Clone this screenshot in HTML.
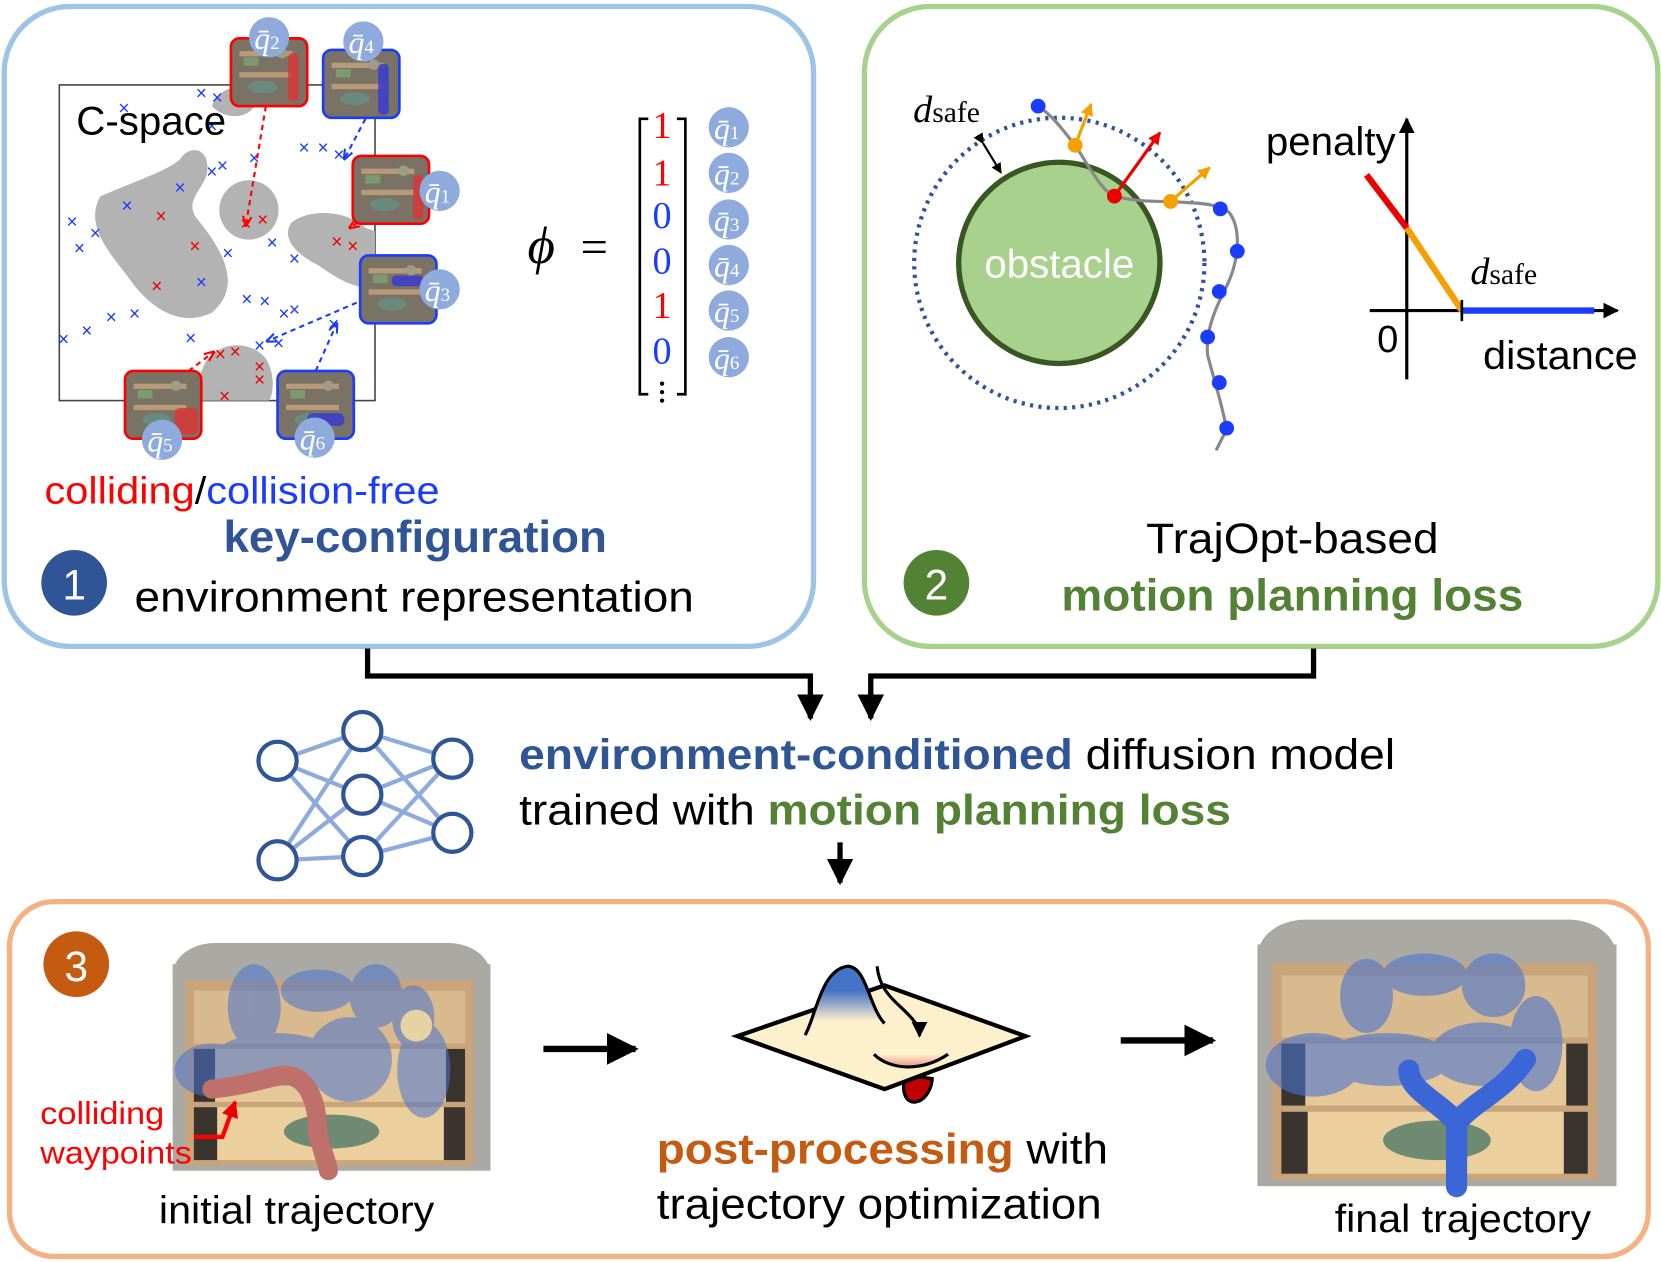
<!DOCTYPE html>
<html><head><meta charset="utf-8"><style>html,body{margin:0;padding:0;background:#fff}svg{display:block}</style></head>
<body>
<svg xmlns="http://www.w3.org/2000/svg" width="1661" height="1262" viewBox="0 0 1568 1191" font-family="Liberation Sans, Arial, sans-serif">
<defs>
<marker id="ab" viewBox="0 0 10 10" refX="9" refY="5" markerWidth="5" markerHeight="5" orient="auto"><path d="M0,0 L10,5 L0,10 z" fill="#000"/></marker>
<marker id="ar" viewBox="0 0 10 10" refX="9" refY="5" markerWidth="5" markerHeight="5" orient="auto"><path d="M0,1 L10,5 L0,9" fill="none" stroke="#f00" stroke-width="2"/></marker>
<marker id="abl" viewBox="0 0 10 10" refX="9" refY="5" markerWidth="5" markerHeight="5" orient="auto"><path d="M0,1 L10,5 L0,9" fill="none" stroke="#1a3cff" stroke-width="2"/></marker>
<marker id="ao" viewBox="0 0 10 10" refX="9" refY="5" markerWidth="4" markerHeight="4" orient="auto"><path d="M0,0 L10,5 L0,10 z" fill="#f5a000"/></marker>
<marker id="ard" viewBox="0 0 10 10" refX="9" refY="5" markerWidth="4" markerHeight="4" orient="auto"><path d="M0,0 L10,5 L0,10 z" fill="#e00"/></marker>
<linearGradient id="bump" x1="0" y1="0" x2="0" y2="1"><stop offset="0.35" stop-color="#4472c4"/><stop offset="0.8" stop-color="#fdf0cc"/></linearGradient>
<linearGradient id="dip" x1="0" y1="0" x2="0" y2="1"><stop offset="0" stop-color="#fdf0cc"/><stop offset="1" stop-color="#f0a090"/></linearGradient>
<g id="thumb"><rect x="0" y="0" width="72" height="64" rx="8" fill="#7a7264"/><rect x="8" y="12" width="50" height="5" fill="#b89a78"/><rect x="8" y="32" width="50" height="5" fill="#b89a78"/><ellipse cx="30" cy="46" rx="14" ry="6" fill="#6a8a80"/><rect x="12" y="18" width="14" height="8" fill="#7a9a70"/><circle cx="48" cy="14" r="5" fill="#a09a88"/></g>
<g id="shelf">
<rect x="0" y="20" width="300" height="195" fill="#aaa9a4"/>
<rect x="0" y="0" width="300" height="60" rx="40" fill="#aaa9a4"/>
<rect x="12" y="35" width="272" height="175" fill="#c9a47a"/>
<rect x="20" y="45" width="256" height="50" fill="#d9b98e"/>
<rect x="20" y="100" width="256" height="50" fill="#e6c898"/>
<rect x="20" y="155" width="256" height="50" fill="#ebcf9d"/>
<rect x="20" y="100" width="20" height="50" fill="#3a342e"/><rect x="258" y="100" width="18" height="50" fill="#3a342e"/>
<rect x="20" y="155" width="22" height="50" fill="#3a342e"/><rect x="256" y="155" width="20" height="50" fill="#3a342e"/>
<ellipse cx="150" cy="178" rx="45" ry="16" fill="#6f8a73"/>
</g>
</defs>

<rect x="4" y="6" width="764" height="604" rx="62" fill="none" stroke="#9dc3e6" stroke-width="5"/>
<rect x="816" y="6" width="749" height="604" rx="62" fill="none" stroke="#a9d18e" stroke-width="5"/>
<rect x="9" y="851" width="1547" height="335" rx="42" fill="none" stroke="#f4b183" stroke-width="5"/>

<path d="M347,612 V638 H765 V678" fill="none" stroke="#000" stroke-width="5" marker-end="url(#ab)"/>
<path d="M1240,612 V638 H822 V678" fill="none" stroke="#000" stroke-width="5" marker-end="url(#ab)"/>
<path d="M793,795 V833" fill="none" stroke="#000" stroke-width="5" marker-end="url(#ab)"/>

<rect x="56" y="80" width="298" height="298" fill="#fff" stroke="#444" stroke-width="1.5"/>
<g fill="#b3b3b3">
<path d="M95,185 C130,170 160,160 170,150 C180,135 200,140 195,165 C190,180 175,190 185,205 C210,235 230,270 200,295 C170,310 140,290 120,260 C100,235 80,210 95,185 Z"/>
<ellipse cx="235" cy="198" rx="28" ry="28"/>
<path d="M275,210 C295,195 330,200 345,215 L354,218 L354,270 C335,275 315,260 300,250 C280,240 265,225 275,210Z"/>
<path d="M195,340 C210,320 240,322 252,340 C260,355 258,372 254,378 L190,378 C185,365 188,352 195,340Z"/>
<path d="M200,100 C205,85 220,80 240,80 L240,100 C235,110 215,115 200,100Z"/>
</g>
<g font-size="18" font-family="Liberation Sans, sans-serif" text-anchor="middle">
<g fill="#1a3cff"><text x="117" y="108">×</text><text x="190" y="94">×</text><text x="205" y="98">×</text><text x="170" y="183">×</text><text x="90" y="226">×</text><text x="68" y="215">×</text><text x="75" y="240">×</text><text x="82" y="318">×</text><text x="215" y="245">×</text><text x="190" y="272">×</text><text x="210" y="162">×</text><text x="240" y="155">×</text><text x="257" y="235">×</text><text x="278" y="250">×</text><text x="250" y="290">×</text><text x="105" y="305">×</text><text x="127" y="302">×</text><text x="180" y="325">×</text><text x="233" y="288">×</text><text x="268" y="302">×</text><text x="278" y="298">×</text><text x="320" y="152">×</text><text x="305" y="145">×</text><text x="287" y="145">×</text><text x="60" y="326">×</text><text x="245" y="332">×</text><text x="120" y="200">×</text><text x="200" y="125">×</text><text x="315" y="312">×</text><text x="263" y="330">×</text><text x="200" y="168">×</text></g>
<g fill="#e00"><text x="152" y="210">×</text><text x="184" y="238">×</text><text x="148" y="276">×</text><text x="232" y="217">×</text><text x="248" y="213">×</text><text x="318" y="234">×</text><text x="333" y="238">×</text><text x="208" y="340">×</text><text x="222" y="338">×</text><text x="245" y="352">×</text><text x="245" y="364">×</text><text x="212" y="380">×</text></g>
</g>
<text x="72" y="127" font-size="38">C-space</text>
<path d="M251,100 L232,213" stroke="#f00" stroke-width="2" stroke-dasharray="5,4" fill="none" marker-end="url(#ar)"/>
<path d="M345,205 L330,215" stroke="#f00" stroke-width="2" stroke-dasharray="5,4" fill="none" marker-end="url(#ar)"/>
<path d="M178,350 L202,332" stroke="#f00" stroke-width="2" stroke-dasharray="5,4" fill="none" marker-end="url(#ar)"/>
<path d="M345,112 L325,150" stroke="#1a3cff" stroke-width="2" stroke-dasharray="5,4" fill="none" marker-end="url(#abl)"/>
<path d="M345,282 L252,322" stroke="#1a3cff" stroke-width="2" stroke-dasharray="5,4" fill="none" marker-end="url(#abl)"/>
<path d="M298,350 L318,305" stroke="#1a3cff" stroke-width="2" stroke-dasharray="5,4" fill="none" marker-end="url(#abl)"/>
<g stroke-width="2.5">
<use href="#thumb" x="218" y="36"/><rect x="218" y="36" width="72" height="64" rx="8" fill="none" stroke="#f00"/>
<use href="#thumb" x="305" y="47"/><rect x="305" y="47" width="72" height="64" rx="8" fill="none" stroke="#1a3cff"/>
<use href="#thumb" x="333" y="147"/><rect x="333" y="147" width="72" height="64" rx="8" fill="none" stroke="#f00"/>
<use href="#thumb" x="340" y="241"/><rect x="340" y="241" width="72" height="64" rx="8" fill="none" stroke="#1a3cff"/>
<use href="#thumb" x="118" y="350"/><rect x="118" y="350" width="72" height="64" rx="8" fill="none" stroke="#f00"/>
<use href="#thumb" x="262" y="350"/><rect x="262" y="350" width="72" height="64" rx="8" fill="none" stroke="#1a3cff"/>
</g>
<g fill="#d33" opacity="0.8"><rect x="272" y="50" width="10" height="45" rx="4"/><rect x="390" y="165" width="10" height="42" rx="4"/><rect x="165" y="385" width="22" height="25" rx="5"/></g>
<g fill="#3a3ad0" opacity="0.85"><rect x="357" y="60" width="10" height="48" rx="4"/><rect x="370" y="260" width="30" height="10" rx="4"/><rect x="290" y="390" width="35" height="12" rx="5"/></g>
<g fill="#8faadc"><circle cx="254" cy="35" r="19"/><circle cx="343" cy="39" r="19"/><circle cx="415" cy="180" r="19"/><circle cx="415" cy="273" r="19"/><circle cx="153" cy="415" r="19"/><circle cx="297" cy="413" r="19"/>
<circle cx="688" cy="120" r="19"/><circle cx="688" cy="163" r="19"/><circle cx="688" cy="207" r="19"/><circle cx="688" cy="250" r="19"/><circle cx="688" cy="293" r="19"/><circle cx="688" cy="337" r="19"/></g>
<g fill="#fff" font-family="Liberation Serif, serif" font-style="italic" font-size="30" text-anchor="middle">
<text x="252" y="46">q̄<tspan font-size="18" font-style="normal">2</tspan></text>
<text x="341" y="50">q̄<tspan font-size="18" font-style="normal">4</tspan></text>
<text x="413" y="191">q̄<tspan font-size="18" font-style="normal">1</tspan></text>
<text x="413" y="284">q̄<tspan font-size="18" font-style="normal">3</tspan></text>
<text x="151" y="426">q̄<tspan font-size="18" font-style="normal">5</tspan></text>
<text x="295" y="424">q̄<tspan font-size="18" font-style="normal">6</tspan></text>
<text x="686" y="131">q̄<tspan font-size="18" font-style="normal">1</tspan></text>
<text x="686" y="174">q̄<tspan font-size="18" font-style="normal">2</tspan></text>
<text x="686" y="218">q̄<tspan font-size="18" font-style="normal">3</tspan></text>
<text x="686" y="261">q̄<tspan font-size="18" font-style="normal">4</tspan></text>
<text x="686" y="304">q̄<tspan font-size="18" font-style="normal">5</tspan></text>
<text x="686" y="348">q̄<tspan font-size="18" font-style="normal">6</tspan></text>
</g>
<text x="498" y="248" font-family="Liberation Serif, serif" font-style="italic" font-size="50">ϕ</text>
<text x="548" y="248" font-family="Liberation Serif, serif" font-size="46">=</text>
<path d="M612,112 H604 V372 H612 M639,112 H647 V372 H639" fill="none" stroke="#000" stroke-width="2.5"/>
<g font-family="Liberation Serif, serif" font-size="36" text-anchor="middle">
<text x="625" y="130" fill="#f00">1</text><text x="625" y="175" fill="#f00">1</text><text x="625" y="215" fill="#1a3cff">0</text><text x="625" y="258" fill="#1a3cff">0</text><text x="625" y="300" fill="#f00">1</text><text x="625" y="343" fill="#1a3cff">0</text>
</g>
<g fill="#000"><circle cx="625" cy="362" r="2"/><circle cx="625" cy="370" r="2"/><circle cx="625" cy="378" r="2"/></g>
<text x="42" y="475" font-size="36" textLength="373" lengthAdjust="spacingAndGlyphs"><tspan fill="#f00">colliding</tspan><tspan fill="#000">/</tspan><tspan fill="#1a3cff">collision-free</tspan></text>
<text x="392" y="521" font-size="42" font-weight="bold" fill="#2f5597" text-anchor="middle" textLength="362" lengthAdjust="spacingAndGlyphs">key-configuration</text>
<circle cx="70" cy="550" r="31" fill="#2f5597"/>
<text x="70" y="566" font-size="40" fill="#fff" text-anchor="middle">1</text>
<text x="127" y="577" font-size="40" textLength="528" lengthAdjust="spacingAndGlyphs">environment representation</text>

<circle cx="1000" cy="248" r="137" fill="none" stroke="#2f5597" stroke-width="4" stroke-dasharray="3,5"/>
<circle cx="1000" cy="248" r="95" fill="#a9d18e" stroke="#385723" stroke-width="5"/>
<text x="1000" y="262" font-size="38" fill="#fff" text-anchor="middle">obstacle</text>
<path d="M928,135 L945,163" stroke="#000" stroke-width="2" marker-end="url(#ab)" marker-start="url(#ab)"/>
<text x="862" y="115" font-family="Liberation Serif, serif" font-size="36" font-style="italic">d<tspan font-style="normal" font-size="28">safe</tspan></text>
<path d="M980,100 C995,110 1005,125 1015,137 C1030,160 1040,180 1052,185 C1070,190 1090,190 1105,190 C1125,192 1145,190 1160,200 C1172,215 1170,245 1158,270 C1145,295 1138,315 1140,335 C1145,355 1152,375 1158,405 L1148,425" fill="none" stroke="#888" stroke-width="3"/>
<g fill="#1a3cff"><circle cx="980" cy="100" r="7"/><circle cx="1152" cy="197" r="7"/><circle cx="1168" cy="237" r="7"/><circle cx="1151" cy="275" r="7"/><circle cx="1140" cy="318" r="7"/><circle cx="1151" cy="361" r="7"/><circle cx="1158" cy="404" r="7"/></g>
<path d="M1015,137 L1030,98" stroke="#f5a000" stroke-width="3" marker-end="url(#ao)"/>
<path d="M1105,190 L1142,158" stroke="#f5a000" stroke-width="3" marker-end="url(#ao)"/>
<path d="M1052,185 L1095,125" stroke="#e00" stroke-width="3" marker-end="url(#ard)"/>
<circle cx="1015" cy="137" r="7" fill="#f5a000"/><circle cx="1105" cy="190" r="7" fill="#f5a000"/><circle cx="1052" cy="185" r="7" fill="#e00"/>
<path d="M1328,358 V112" stroke="#000" stroke-width="3" marker-end="url(#ab)"/>
<path d="M1293,293 H1527" stroke="#000" stroke-width="3" marker-end="url(#ab)"/>
<path d="M1290,165 L1328,215" stroke="#e00" stroke-width="6"/>
<path d="M1328,215 L1380,293" stroke="#f5a000" stroke-width="6"/>
<path d="M1380,293 H1505" stroke="#1a3cff" stroke-width="6"/>
<path d="M1380,283 V303" stroke="#000" stroke-width="2.5"/>
<text x="1195" y="146" font-size="38">penalty</text>
<text x="1300" y="332" font-size="36">0</text>
<text x="1400" y="348" font-size="38" textLength="146" lengthAdjust="spacingAndGlyphs">distance</text>
<text x="1388" y="268" font-family="Liberation Serif, serif" font-size="36" font-style="italic">d<tspan font-style="normal" font-size="28">safe</tspan></text>
<text x="1220" y="522" font-size="40" text-anchor="middle" textLength="276" lengthAdjust="spacingAndGlyphs">TrajOpt-based</text>
<text x="1220" y="576" font-size="42" font-weight="bold" fill="#548235" text-anchor="middle" textLength="436" lengthAdjust="spacingAndGlyphs">motion planning loss</text>
<circle cx="884" cy="550" r="31" fill="#548235"/>
<text x="884" y="566" font-size="40" fill="#fff" text-anchor="middle">2</text>

<g stroke="#8faadc" stroke-width="4">
<path d="M262,718 L342,690 M262,718 L342,750 M262,718 L342,808 M262,812 L342,690 M262,812 L342,750 M262,812 L342,808 M342,690 L427,716 M342,690 L427,786 M342,750 L427,716 M342,750 L427,786 M342,808 L427,716 M342,808 L427,786"/>
</g>
<g fill="#fff" stroke="#2f5597" stroke-width="4"><circle cx="262" cy="718" r="18"/><circle cx="262" cy="812" r="18"/><circle cx="342" cy="690" r="18"/><circle cx="342" cy="750" r="18"/><circle cx="342" cy="808" r="18"/><circle cx="427" cy="716" r="18"/><circle cx="427" cy="786" r="18"/></g>
<text x="490" y="726" font-size="40" textLength="827" lengthAdjust="spacingAndGlyphs"><tspan font-weight="bold" fill="#2f5597">environment-conditioned</tspan> diffusion model</text>
<text x="490" y="778" font-size="40" textLength="672" lengthAdjust="spacingAndGlyphs">trained with <tspan font-weight="bold" fill="#548235">motion planning loss</tspan></text>

<circle cx="72" cy="910" r="31" fill="#c55a11"/>
<text x="72" y="926" font-size="40" fill="#fff" text-anchor="middle">3</text>
<use href="#shelf" x="163" y="890"/>
<g fill="#4a74d0" opacity="0.55">
<ellipse cx="240" cy="950" rx="25" ry="40"/><ellipse cx="300" cy="935" rx="35" ry="20"/><ellipse cx="355" cy="940" rx="25" ry="30"/><ellipse cx="200" cy="1010" rx="35" ry="25"/><ellipse cx="260" cy="1000" rx="60" ry="25"/><ellipse cx="330" cy="1000" rx="40" ry="40"/><ellipse cx="400" cy="1010" rx="25" ry="45"/><ellipse cx="390" cy="960" rx="20" ry="30"/>
</g>
<circle cx="393" cy="968" r="15" fill="#e5d3a3"/>
<path d="M200,1028 C230,1025 250,1018 265,1015 C290,1012 300,1040 300,1070 C305,1090 310,1100 310,1105" fill="none" stroke="#c0706a" stroke-width="18" stroke-linecap="round"/>
<path d="M183,1073 H210 L222,1040" fill="none" stroke="#f00" stroke-width="4" marker-end="url(#ard)"/>
<text x="38" y="1061" font-size="30" fill="#f00" textLength="117" lengthAdjust="spacingAndGlyphs">colliding</text>
<text x="38" y="1098" font-size="30" fill="#f00" textLength="143" lengthAdjust="spacingAndGlyphs">waypoints</text>
<text x="150" y="1155" font-size="37" textLength="260" lengthAdjust="spacingAndGlyphs">initial trajectory</text>
<path d="M513,990 H600" stroke="#000" stroke-width="6" marker-end="url(#ab)"/>
<path d="M855,1015 C850,1030 855,1042 865,1040 C875,1038 880,1025 880,1018 Z" fill="#c00000" stroke="#000" stroke-width="3"/>
<polygon points="696,978 835,930 968,978 835,1028" fill="#fdf0cc" stroke="#000" stroke-width="4"/>
<path d="M760,977 C770,960 775,915 800,912 C820,912 820,950 830,962 L835,966 L790,965 Z" fill="url(#bump)"/>
<path d="M760,977 C770,960 775,915 800,912 C818,912 820,950 835,966" fill="none" stroke="#000" stroke-width="3"/>
<path d="M825,995 C840,1008 870,1010 895,995 Z" fill="url(#dip)"/>
<path d="M825,995 C840,1010 870,1012 895,995" fill="none" stroke="#000" stroke-width="3"/>
<path d="M828,912 C830,935 845,945 855,955 C865,965 868,970 868,978" fill="none" stroke="#000" stroke-width="3" marker-end="url(#ab)"/>
<text x="620" y="1098" font-size="40" textLength="426" lengthAdjust="spacingAndGlyphs"><tspan font-weight="bold" fill="#c55a11">post-processing</tspan> with</text>
<text x="620" y="1150" font-size="40" textLength="420" lengthAdjust="spacingAndGlyphs">trajectory optimization</text>
<path d="M1058,982 H1145" stroke="#000" stroke-width="6" marker-end="url(#ab)"/>
<g transform="translate(1187,868) scale(1.13,1.17)"><use href="#shelf"/></g>
<g fill="#4a74d0" opacity="0.6">
<ellipse cx="1290" cy="940" rx="25" ry="35"/><ellipse cx="1345" cy="920" rx="40" ry="20"/><ellipse cx="1410" cy="930" rx="30" ry="30"/><ellipse cx="1240" cy="1005" rx="45" ry="30"/><ellipse cx="1310" cy="1000" rx="60" ry="25"/><ellipse cx="1400" cy="995" rx="50" ry="30"/><ellipse cx="1450" cy="985" rx="25" ry="45"/>
</g>
<path d="M1375,1120 L1375,1060 C1360,1040 1330,1030 1330,1010 M1375,1060 C1390,1040 1420,1030 1440,1000" fill="none" stroke="#3b66d8" stroke-width="20" stroke-linecap="round"/>
<text x="1260" y="1163" font-size="37" textLength="242" lengthAdjust="spacingAndGlyphs">final trajectory</text>
</svg>
</body></html>
